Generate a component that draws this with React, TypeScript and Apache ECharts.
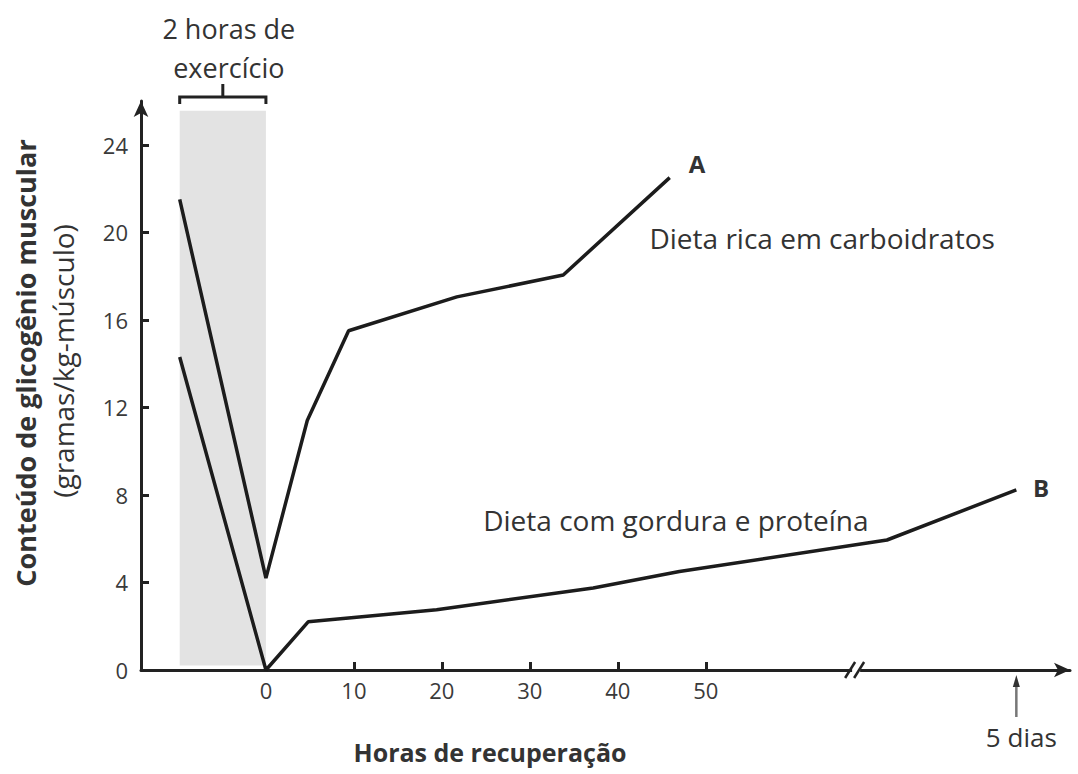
import React, { useEffect, useRef } from "react";
import * as echarts from "echarts";

// Horas de recuperação (escala visual; após a quebra: até 5 dias)
const hoursA = [-9.8, 0, 4.7, 9.4, 21.7, 33.8, 45.9];
const glycogenA = [21.5, 4.2, 11.4, 15.5, 17.05, 18.05, 22.5];
const hoursB = [-9.8, 0, 4.8, 10, 19.4, 37.2, 47, 70.6, 85.3];
const glycogenB = [14.3, 0, 2.2, 2.4, 2.75, 3.75, 4.5, 5.94, 8.23];
const xTickLabels = [0, 10, 20, 30, 40, 50];
const xTicks = [10, 20, 30, 40, 50];
const yTickLabels = [0, 4, 8, 12, 16, 20, 24];
const yTicks = [4, 8, 12, 16, 20, 24];
const exerciseWindow = [-9.8, 0];
const exerciseTop = 25.55;
const axisBreakAt = 67.2;
const fiveDaysAt = 85.3;

const FONT = '"Open Sans", "Noto Sans", sans-serif';
const TXT = "#333";
const INK = "#1c1c1c";

export default function App() {
  const ref = useRef<HTMLDivElement>(null);
  useEffect(() => {
    if (!ref.current) return;
    const chart = echarts.init(ref.current, null, { renderer: "svg" });
    const axisCommon = {
      axisLine: {
        show: true,
        onZero: false,
        symbol: ["none", "arrow"],
        symbolSize: [11, 16],
        lineStyle: { color: "#222", width: 3 },
      },
      splitLine: { show: false },
    };
    chart.setOption({
      animation: false,
      grid: { left: 141, right: 8, top: 101, bottom: 104 },
      xAxis: {
        type: "value",
        min: -14.2,
        max: 91.4,
        ...axisCommon,
        axisTick: {
          show: true,
          inside: true,
          length: 8,
          customValues: xTicks,
          lineStyle: { color: "#222", width: 3 },
        },
        axisLabel: {
          customValues: xTickLabels,
          margin: 9,
          fontSize: 22,
          fontFamily: FONT,
          color: "#3a3a3a",
        },
      },
      yAxis: {
        type: "value",
        min: 0,
        max: 26,
        ...axisCommon,
        axisTick: {
          show: true,
          inside: true,
          length: 8,
          customValues: yTicks,
          lineStyle: { color: "#222", width: 3 },
        },
        axisLabel: {
          customValues: yTickLabels,
          margin: 13,
          fontSize: 22,
          fontFamily: FONT,
          color: "#3a3a3a",
        },
      },
      series: [
        {
          name: "A",
          type: "line",
          data: hoursA.map((h, i) => [h, glycogenA[i]]),
          showSymbol: false,
          lineStyle: { color: INK, width: 3.5 },
          z: 3,
          markArea: {
            silent: true,
            itemStyle: { color: "#e3e3e3" },
            data: [
              [
                { xAxis: exerciseWindow[0], yAxis: 0.2 },
                { xAxis: exerciseWindow[1], yAxis: exerciseTop },
              ],
            ],
          },
        },
        {
          name: "B",
          type: "line",
          data: hoursB.map((h, i) => [h, glycogenB[i]]),
          showSymbol: false,
          lineStyle: { color: INK, width: 3.5 },
          z: 3,
        },
      ],
    });

    const px = (x: number, y: number) =>
      chart.convertToPixel({ gridIndex: 0 }, [x, y]) as number[];
    const [ex1, y0] = px(exerciseWindow[0], 0);
    const [ex2] = px(exerciseWindow[1], 0);
    const exMid = (ex1 + ex2) / 2;
    const bracketY = 97;
    const [bx] = px(axisBreakAt, 0);
    const [fx] = px(fiveDaysAt, 0);
    const posA = px(49, 23.15);
    const posB = px(88.1, 8.35);
    const posDA = px(43.6, 19.75);
    const posDB = px(24.7, 6.86);
    const lineStyle = { stroke: "#222", lineWidth: 3, fill: null };
    const text = (
      t: string,
      x: number,
      y: number,
      size: number,
      weight: string,
      align: string,
      extra: any = {}
    ) => ({
      type: "text",
      x,
      y,
      ...extra,
      style: {
        text: t,
        fontSize: size,
        fontWeight: weight,
        fontFamily: FONT,
        fill: TXT,
        align,
        verticalAlign: "middle",
        lineHeight: 39,
      },
    });

    chart.setOption({
      graphic: [
        {
          type: "polyline",
          shape: {
            points: [
              [ex1, bracketY + 7],
              [ex1, bracketY],
              [ex2, bracketY],
              [ex2, bracketY + 7],
            ],
          },
          style: lineStyle,
        },
        {
          type: "line",
          shape: { x1: exMid, y1: bracketY, x2: exMid, y2: bracketY - 13 },
          style: lineStyle,
        },
        text("2 horas de\nexercício", exMid + 6, 48, 27, "normal", "center"),
        // axis break
        {
          type: "rect",
          shape: { x: bx - 5, y: y0 - 3, width: 8, height: 6 },
          style: { fill: "#fff" },
          z: 10,
        },
        {
          type: "line",
          shape: { x1: bx - 12, y1: y0 + 8, x2: bx - 2, y2: y0 - 8 },
          style: { stroke: "#222", lineWidth: 2.5 },
          z: 11,
        },
        {
          type: "line",
          shape: { x1: bx - 3, y1: y0 + 8, x2: bx + 7, y2: y0 - 8 },
          style: { stroke: "#222", lineWidth: 2.5 },
          z: 11,
        },
        // 5 dias arrow
        {
          type: "line",
          shape: { x1: fx, y1: y0 + 14, x2: fx, y2: y0 + 47 },
          style: { stroke: "#777", lineWidth: 2.5 },
        },
        {
          type: "polygon",
          shape: {
            points: [
              [fx, y0 + 5],
              [fx - 3.5, y0 + 17],
              [fx + 3.5, y0 + 17],
            ],
          },
          style: { fill: "#333" },
        },
        text("5 dias", fx + 5, y0 + 67, 26, "normal", "center"),
        text("A", posA[0], posA[1], 24, "bold", "center"),
        text("B", posB[0], posB[1], 24, "bold", "center"),
        text("Dieta rica em carboidratos", posDA[0], posDA[1], 28, "normal", "left"),
        text("Dieta com gordura e proteína", posDB[0], posDB[1], 28, "normal", "left"),
        text("Horas de recuperação", 490, 752, 25, "bold", "center"),
        text("Conteúdo de glicogênio muscular", 25, 363, 27, "bold", "center", {
          rotation: Math.PI / 2,
        }),
        text("(gramas/kg-músculo)", 63, 361, 28, "normal", "center", {
          rotation: Math.PI / 2,
        }),
      ],
    });
    return () => chart.dispose();
  }, []);
  return (
    <div
      ref={ref}
      style={{
        position: "absolute",
        left: 0,
        top: 0,
        width: 1078,
        height: 774,
        background: "#fff",
      }}
    />
  );
}
